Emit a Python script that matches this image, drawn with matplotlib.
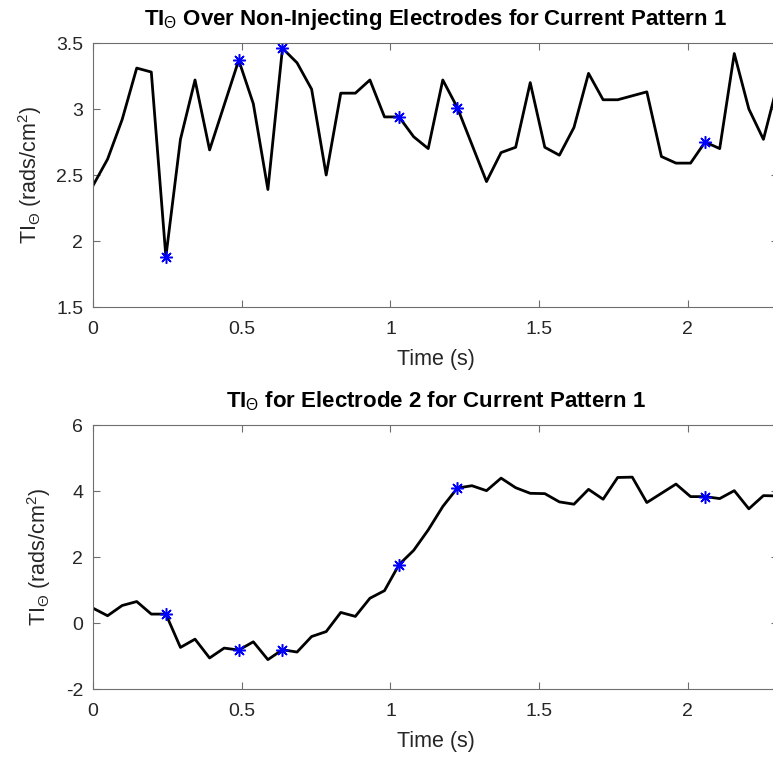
import numpy as np
import matplotlib
matplotlib.use('Agg')
import matplotlib.pyplot as plt

# sample spacing (48 samples, last one at the right edge)
dt = 0.049
n_samples = 48

ti_mean = [2.42, 2.62, 2.92, 3.31, 3.28, 1.88, 2.77, 3.22, 2.69, 3.03,
           3.37, 3.04, 2.39, 3.46, 3.35, 3.15, 2.50, 3.12, 3.12, 3.22,
           2.94, 2.94, 2.79, 2.70, 3.22, 3.01, 2.73, 2.45, 2.67, 2.71,
           3.20, 2.71, 2.65, 2.86, 3.27, 3.07, 3.07, 3.10, 3.13, 2.64,
           2.59, 2.59, 2.75, 2.70, 3.42, 3.00, 2.77, 3.20]

ti_elec2 = [0.45, 0.22, 0.53, 0.65, 0.27, 0.27, -0.74, -0.49, -1.06, -0.76,
            -0.82, -0.57, -1.11, -0.81, -0.88, -0.41, -0.26, 0.32, 0.20, 0.75,
            0.98, 1.77, 2.20, 2.82, 3.53, 4.09, 4.16, 4.01, 4.39, 4.10,
            3.93, 3.92, 3.67, 3.60, 4.05, 3.75, 4.41, 4.42, 3.65, 3.93,
            4.21, 3.83, 3.83, 3.77, 4.01, 3.46, 3.86, 3.85]

marked_idx = [5, 10, 13, 21, 25, 42]

titles = [r'TI$_\Theta$ Over Non-Injecting Electrodes for Current Pattern 1',
          r'TI$_\Theta$ for Electrode 2 for Current Pattern 1']
ylims = [(1.5, 3.5), (-2, 6)]
yticks = [[1.5, 2, 2.5, 3, 3.5], [-2, 0, 2, 4, 6]]
ytick_labels = [['1.5', '2', '2.5', '3', '3.5'], ['-2', '0', '2', '4', '6']]
xticks = [0, 0.5, 1, 1.5, 2]
xtick_labels = ['0', '0.5', '1', '1.5', '2']

plt.rcParams['font.family'] = ['Liberation Sans', 'DejaVu Sans']
plt.rcParams['mathtext.fontset'] = 'custom'
plt.rcParams['mathtext.rm'] = 'Liberation Sans'
plt.rcParams['mathtext.it'] = 'Liberation Sans'
plt.rcParams['mathtext.bf'] = 'Liberation Sans:bold'

W, H = 773, 758
fig = plt.figure(figsize=(W / 100, H / 100), dpi=100)

t = np.arange(n_samples) * dt
text_col = '#262626'
axis_col = '#6e6e6e'

# axes boxes in pixels: left, top, right, bottom (right edge runs past the figure)
boxes = [(93, 43, 778, 307), (93, 425, 778, 689)]

for k, series in enumerate([ti_mean, ti_elec2]):
    l, tp, r, b = boxes[k]
    ax = fig.add_axes((l / W, 1 - b / H, (r - l) / W, (b - tp) / H))
    y = np.array(series)
    ax.plot(t, y, color='black', lw=2)
    ax.plot(t[marked_idx], y[marked_idx], linestyle='none',
            marker=(8, 2, 0), markersize=9, markeredgewidth=1.1, color='#0000ff')
    ax.set_xlim(0, t[-1])
    ax.set_ylim(*ylims[k])
    ax.set_xticks(xticks)
    ax.set_xticklabels(xtick_labels)
    ax.set_yticks(yticks[k])
    ax.set_yticklabels(ytick_labels[k])
    ax.tick_params(direction='in', length=5, width=0.8, top=True, right=True,
                   labelsize=14, colors=axis_col, labelcolor=text_col)
    ax.tick_params(axis='x', pad=10)
    ax.tick_params(axis='y', pad=7)
    for s in ax.spines.values():
        s.set_color(axis_col)
        s.set_linewidth(0.8)
    ax.set_title(titles[k], fontsize=16, fontweight='bold', color='black', pad=13)
    ax.set_xlabel('Time (s)', fontsize=15.5, color=text_col, labelpad=8)
    ax.set_ylabel(r'TI$_\Theta$ (rads/cm$^2$)', fontsize=15.5, color=text_col, labelpad=9)

fig.savefig('out.png', dpi=100)
